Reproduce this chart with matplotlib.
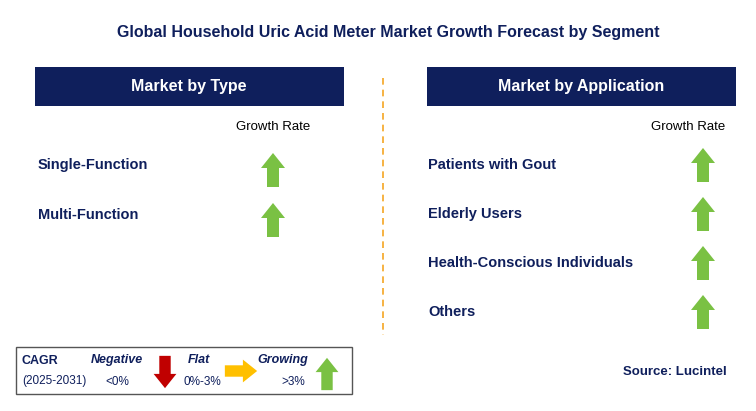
import matplotlib.pyplot as plt
from matplotlib.patches import Rectangle, Polygon

plt.rcParams['font.family'] = 'Liberation Sans'

title = 'Global Household Uric Acid Meter Market Growth Forecast by Segment'
type_labels = ['Single-Function', 'Multi-Function']
type_trend = ['up', 'up']
app_labels = ['Patients with Gout', 'Elderly Users', 'Health-Conscious Individuals', 'Others']
app_trend = ['up', 'up', 'up', 'up']

NAVY = '#0f1f5c'
GREEN = '#7ac143'
RED = '#c00000'
YELLOW = '#ffc000'

fig = plt.figure(figsize=(7.56, 4.11), dpi=100)
ax = fig.add_axes([0, 0, 1, 1])
ax.set_xlim(0, 756)
ax.set_ylim(411, 0)
ax.axis('off')


def arrow(cx, cy, kind, size=1.0):
    h = 34 * size / 2
    hw = 12 * size
    sw = 6 * size
    hh = 15 * size
    if kind == 'up':
        pts = [(cx, cy - h), (cx + hw, cy - h + hh), (cx + sw, cy - h + hh), (cx + sw, cy + h),
               (cx - sw, cy + h), (cx - sw, cy - h + hh), (cx - hw, cy - h + hh)]
        c = GREEN
    elif kind == 'down':
        pts = [(cx, cy + h), (cx + hw, cy + h - hh), (cx + sw, cy + h - hh), (cx + sw, cy - h),
               (cx - sw, cy - h), (cx - sw, cy + h - hh), (cx - hw, cy + h - hh)]
        c = RED
    else:
        pts = [(cx + h, cy), (cx + h - hh, cy - hw), (cx + h - hh, cy - sw), (cx - h, cy - sw),
               (cx - h, cy + sw), (cx + h - hh, cy + sw), (cx + h - hh, cy + hw)]
        c = YELLOW
    ax.add_patch(Polygon(pts, closed=True, color=c, lw=0))


ax.text(388, 32, title, ha='center', va='center', fontsize=11.5, fontweight='bold', color=NAVY)

# headers
for x0, lab in [(35, 'Market by Type'), (427, 'Market by Application')]:
    ax.add_patch(Rectangle((x0, 67), 309, 39, color=NAVY, lw=0))
    ax.text(x0 + 154, 87, lab, ha='center', va='center', fontsize=11.5, fontweight='bold', color='white')

ax.plot([383, 383], [78, 335], ls=(0, (4, 3)), color='#f5a623', lw=1.2)

ax.text(273, 127, 'Growth Rate', ha='center', va='center', fontsize=9.5, color='black')
ax.text(688, 127, 'Growth Rate', ha='center', va='center', fontsize=9.5, color='black')

for i, (lab, t) in enumerate(zip(type_labels, type_trend)):
    y = 165 + 50 * i
    ax.text(38, y, lab, ha='left', va='center', fontsize=10.5, fontweight='bold', color=NAVY)
    arrow(273, y + 5, t)

for i, (lab, t) in enumerate(zip(app_labels, app_trend)):
    y = 165 + 49 * i
    ax.text(428, y, lab, ha='left', va='center', fontsize=10.5, fontweight='bold', color=NAVY)
    arrow(703, y, t)

# legend box
ax.add_patch(Rectangle((16, 347), 336, 47, fill=False, ec='#555555', lw=1))
ax.text(22, 361, 'CAGR', ha='left', va='center', fontsize=9, fontweight='bold', color=NAVY)
ax.text(22, 381, '(2025-2031)', ha='left', va='center', fontsize=8.5, color=NAVY)
ax.text(117, 360, 'Negative', ha='center', va='center', fontsize=9, fontweight='bold', style='italic', color=NAVY)
ax.text(117, 382, '<0%', ha='center', va='center', fontsize=8.5, color=NAVY)
arrow(165, 372, 'down', 0.95)
ax.text(199, 360, 'Flat', ha='center', va='center', fontsize=9, fontweight='bold', style='italic', color=NAVY)
ax.text(202, 382, '0%-3%', ha='center', va='center', fontsize=8.5, color=NAVY)
arrow(241, 371, 'right', 0.95)
ax.text(283, 360, 'Growing', ha='center', va='center', fontsize=9, fontweight='bold', style='italic', color=NAVY)
ax.text(293, 382, '>3%', ha='center', va='center', fontsize=8.5, color=NAVY)
arrow(327, 374, 'up', 0.95)

ax.text(727, 372, 'Source: Lucintel', ha='right', va='center', fontsize=9.5, fontweight='bold', color=NAVY)

fig.savefig('out.png', dpi=100)
